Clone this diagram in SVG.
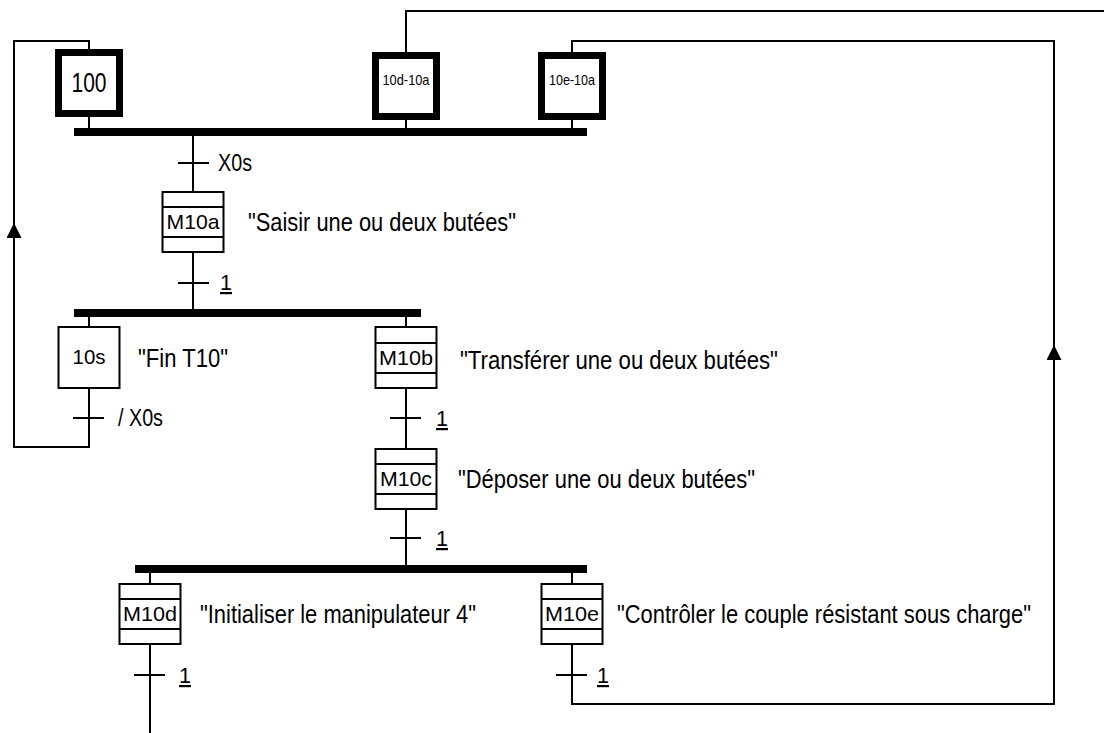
<svg xmlns="http://www.w3.org/2000/svg" width="1104" height="733" viewBox="0 0 1104 733">
<style>
.ln{fill:none;stroke:#000;stroke-width:2}
.bar{fill:#000}
.st{fill:#fff;stroke:#000;stroke-width:2}
.init{fill:#fff;stroke:#000;stroke-width:7}
.dv{stroke:#000;stroke-width:2}
.tk{stroke:#000;stroke-width:2}
.t{font-family:"Liberation Sans",Arial,sans-serif;fill:#000}
.lbl{font-size:25px}
.box{font-size:21px;text-anchor:middle}
.tr{font-size:23px}
.one{font-size:22px;text-decoration:underline}
</style>
<defs>
<marker id="arr" markerUnits="userSpaceOnUse" viewBox="0 0 15 15" markerWidth="15" markerHeight="15" refX="15" refY="7.5" orient="auto">
<path d="M0,0 L15,7.5 L0,15 Z" fill="#000"/>
</marker>
</defs>
<rect x="0" y="0" width="1104" height="733" fill="#fff"/>

<g id="connectors">
<path class="ln" d="M89,388 V447 H14 V223" marker-end="url(#arr)"/>
<path class="ln" d="M14,224 V41 H89 V49"/>
<path class="ln" d="M406,52 V11 H1104"/>
<path class="ln" d="M572,644 V704 H1054 V345" marker-end="url(#arr)"/>
<path class="ln" d="M1054,346 V41 H572 V52"/>
<path class="ln" d="M89,117 V128 M406,120 V128 M572,120 V128"/>
<rect class="bar" x="74" y="128" width="513" height="8"/>
<path class="ln" d="M193,136 V192 M193,252 V309"/>
<rect class="bar" x="74" y="309" width="347" height="8"/>
<path class="ln" d="M89,317 V327 M406,317 V327 M406,388 V449 M406,509 V565"/>
<rect class="bar" x="135" y="565" width="452" height="8"/>
<path class="ln" d="M150,573 V584 M150,644 V733 M572,573 V584"/>
</g>

<g id="step100">
<rect class="init" x="58.5" y="52.5" width="61" height="61"/>
<text class="t" x="89" y="92" font-size="27" text-anchor="middle" textLength="35" lengthAdjust="spacingAndGlyphs">100</text>
</g>
<g id="step10d-10a">
<rect class="init" x="375.5" y="55.5" width="61" height="61"/>
<text class="t" x="406" y="85" font-size="14.5" text-anchor="middle" textLength="47" lengthAdjust="spacingAndGlyphs">10d-10a</text>
</g>
<g id="step10e-10a">
<rect class="init" x="541.5" y="55.5" width="61" height="61"/>
<text class="t" x="572" y="85" font-size="14.5" text-anchor="middle" textLength="46" lengthAdjust="spacingAndGlyphs">10e-10a</text>
</g>

<g id="trX0s">
<line class="tk" x1="178" y1="163" x2="209" y2="163"/>
<text class="t tr" x="218" y="171" textLength="34" lengthAdjust="spacingAndGlyphs">X0s</text>
</g>

<g id="stepM10a">
<rect class="st" x="162.5" y="192" width="61" height="60"/>
<line class="dv" x1="162.5" y1="207" x2="223.5" y2="207"/>
<line class="dv" x1="162.5" y1="237" x2="223.5" y2="237"/>
<text class="t box" x="193" y="229" textLength="53" lengthAdjust="spacingAndGlyphs">M10a</text>
<text class="t lbl" x="248" y="231" textLength="268" lengthAdjust="spacingAndGlyphs">"Saisir une ou deux butées"</text>
</g>

<g id="trM10a">
<line class="tk" x1="178" y1="283" x2="209" y2="283"/>
<text class="t one" x="220" y="290" textLength="12" lengthAdjust="spacingAndGlyphs">1</text>
</g>

<g id="step10s">
<rect class="st" x="58.5" y="327" width="61" height="61"/>
<text class="t box" x="89" y="364" textLength="33" lengthAdjust="spacingAndGlyphs">10s</text>
<text class="t lbl" x="138" y="367" textLength="90" lengthAdjust="spacingAndGlyphs">"Fin T10"</text>
</g>

<g id="tr10s">
<line class="tk" x1="73" y1="418" x2="104" y2="418"/>
<text class="t tr" x="118" y="426" textLength="45" lengthAdjust="spacingAndGlyphs">/ X0s</text>
</g>

<g id="stepM10b">
<rect class="st" x="375.5" y="327" width="61" height="61"/>
<line class="dv" x1="375.5" y1="343" x2="436.5" y2="343"/>
<line class="dv" x1="375.5" y1="373" x2="436.5" y2="373"/>
<text class="t box" x="406" y="365" textLength="54" lengthAdjust="spacingAndGlyphs">M10b</text>
<text class="t lbl" x="460" y="369" textLength="318" lengthAdjust="spacingAndGlyphs">"Transférer une ou deux butées"</text>
</g>

<g id="trM10b">
<line class="tk" x1="390" y1="418" x2="421" y2="418"/>
<text class="t one" x="436" y="426" textLength="12" lengthAdjust="spacingAndGlyphs">1</text>
</g>

<g id="stepM10c">
<rect class="st" x="375.5" y="449" width="61" height="60"/>
<line class="dv" x1="375.5" y1="464" x2="436.5" y2="464"/>
<line class="dv" x1="375.5" y1="494" x2="436.5" y2="494"/>
<text class="t box" x="406" y="486" textLength="52" lengthAdjust="spacingAndGlyphs">M10c</text>
<text class="t lbl" x="458" y="488" textLength="297" lengthAdjust="spacingAndGlyphs">"Déposer une ou deux butées"</text>
</g>

<g id="trM10c">
<line class="tk" x1="390" y1="538" x2="421" y2="538"/>
<text class="t one" x="436" y="546" textLength="12" lengthAdjust="spacingAndGlyphs">1</text>
</g>

<g id="stepM10d">
<rect class="st" x="119.5" y="584" width="61" height="60"/>
<line class="dv" x1="119.5" y1="599" x2="180.5" y2="599"/>
<line class="dv" x1="119.5" y1="629" x2="180.5" y2="629"/>
<text class="t box" x="150" y="621" textLength="54" lengthAdjust="spacingAndGlyphs">M10d</text>
<text class="t lbl" x="200" y="623" textLength="276" lengthAdjust="spacingAndGlyphs">"Initialiser le manipulateur 4"</text>
</g>

<g id="trM10d">
<line class="tk" x1="134" y1="675" x2="165" y2="675"/>
<text class="t one" x="179" y="683" textLength="12" lengthAdjust="spacingAndGlyphs">1</text>
</g>

<g id="stepM10e">
<rect class="st" x="541.5" y="584" width="61" height="60"/>
<line class="dv" x1="541.5" y1="599" x2="602.5" y2="599"/>
<line class="dv" x1="541.5" y1="629" x2="602.5" y2="629"/>
<text class="t box" x="572" y="621" textLength="54" lengthAdjust="spacingAndGlyphs">M10e</text>
<text class="t lbl" x="617" y="623" textLength="414" lengthAdjust="spacingAndGlyphs">"Contrôler le couple résistant sous charge"</text>
</g>

<g id="trM10e">
<line class="tk" x1="556" y1="675" x2="587" y2="675"/>
<text class="t one" x="597" y="683" textLength="12" lengthAdjust="spacingAndGlyphs">1</text>
</g>
</svg>
